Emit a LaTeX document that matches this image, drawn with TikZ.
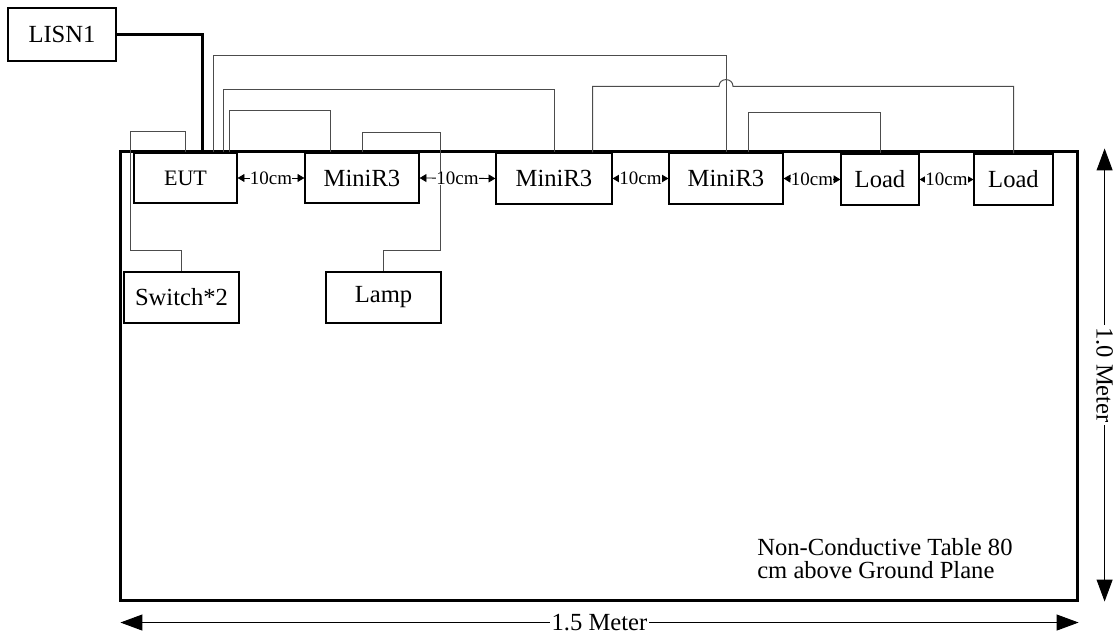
\documentclass[tikz,border=0pt]{standalone}
\usepackage{fontspec}
\setmainfont{Liberation Serif}
\usetikzlibrary{arrows.meta,calc}

\begin{document}
\begin{tikzpicture}[x=0.025cm,y=-0.025cm,
    unit/.style={draw, line width=0.9pt, inner sep=0pt, minimum height=1.25cm,
      font=\fontsize{17.5}{20}\selectfont},
    wire/.style={draw=black!70, line width=0.7pt},
    power/.style={line width=2.1pt},
    gap/.style={line width=0.6pt, {Triangle[length=0.17cm,width=0.2cm]}-{Triangle[length=0.17cm,width=0.2cm]}},
    gaplabel/.style={fill=white, inner sep=0pt, font=\fontsize{13.5}{15}\selectfont},
    dim/.style={line width=0.7pt, {Triangle[length=0.55cm,width=0.4cm]}-{Triangle[length=0.55cm,width=0.4cm]}},
    dimlabel/.style={fill=white, inner sep=1.5pt, font=\fontsize{17.5}{20}\selectfont}]
  \useasboundingbox (0,0) rectangle (1118,635);

  % the table
  \node[draw, line width=2.1pt, minimum width=23.9cm, minimum height=11.2cm] (table) at (599,376) {};
  \node[anchor=north west, inner sep=0pt, align=left, font=\fontsize{17.5}{16.5}\selectfont] (note) at (757,538)
    {Non-Conductive Table 80\\cm above Ground Plane};

  % units on the table
  \node[unit, minimum width=2.7cm, minimum height=1.325cm] (lisn) at (62,34.5) {LISN1};
  \node[unit, minimum width=2.575cm, font=\fontsize{15.7}{18}\selectfont] (eut) at (185.5,178) {EUT};
  \node[unit, minimum width=2.85cm] (m1) at (362,178) {MiniR3};
  \node[unit, minimum width=2.9cm, minimum height=1.275cm] (m2) at (554,178.5) {MiniR3};
  \node[unit, minimum width=2.85cm, minimum height=1.275cm] (m3) at (726,178.5) {MiniR3};
  \node[unit, minimum width=1.95cm, minimum height=1.275cm] (load1) at (880,179.5) {Load};
  \node[unit, minimum width=1.975cm, minimum height=1.275cm] (load2) at (1013.5,179.5) {Load};
  \node[unit, minimum width=2.875cm, minimum height=1.275cm] (sw) at (181.5,297.5) {Switch*2};
  \node[unit, minimum width=2.875cm, minimum height=1.275cm] (lamp) at (383.5,297.5) {Lamp};

  % cables
  \draw[power] (lisn.east) -| ($(eut.north)+(17,0)$);
  \draw[wire] (eut.north) |- ($(eut.north west)+(-3,-21)$) |- ($(sw.north)+(0,-21)$) -- (sw.north);
  \draw[wire] (m1.north) |- ($(m1.north east)+(21,-20)$) |- ($(lamp.north)+(0,-21)$) -- (lamp.north);
  \draw[wire] ($(eut.north east)+(-8,0)$) |- ($(m1.north west)+(26,-42)$) -- ($(m1.north west)+(26,0)$);
  \draw[wire] ($(eut.north east)+(-14,0)$) |- ($(m2.north)+(0,-63)$) -- (m2.north);
  \draw[wire] ($(eut.north east)+(-24,0)$) |- ($(m3.north)+(0,-97)$) -- (m3.north);
  \draw[wire] ($(m2.north east)+(-20,0)$) |- ($(m3.north)+(-7,-66)$)
    .. controls ($(m3.north)+(-7,-75)$) and ($(m3.north)+(7,-75)$) .. ($(m3.north)+(7,-66)$)
    -| (load2.north);
  \draw[wire] ($(m3.north)+(22,0)$) |- ($(load1.north)+(0,-41)$) -- (load1.north);

  % spacing between units
  \draw[gap] (eut.east) -- node[gaplabel] {10cm} (m1.west);
  \draw[gap] (m1.east) -- node[gaplabel] {10cm} (m2.west);
  \draw[gap] (m2.east) -- node[gaplabel] {10cm} (m3.west);
  \draw[gap] (m3.east) -- node[gaplabel] {10cm} (load1.west);
  \draw[gap] (load1.east) -- node[gaplabel] {10cm} (load2.west);

  % table size
  \draw[dim] ($(table.north east)+(26,-2)$) -- node[dimlabel, rotate=-90] {1.0 Meter} ($(table.south east)+(26,0)$);
  \draw[dim] ($(table.south west)+(1,21)$) -- node[dimlabel] {1.5 Meter} ($(table.south east)+(0,21)$);
\end{tikzpicture}
\end{document}
